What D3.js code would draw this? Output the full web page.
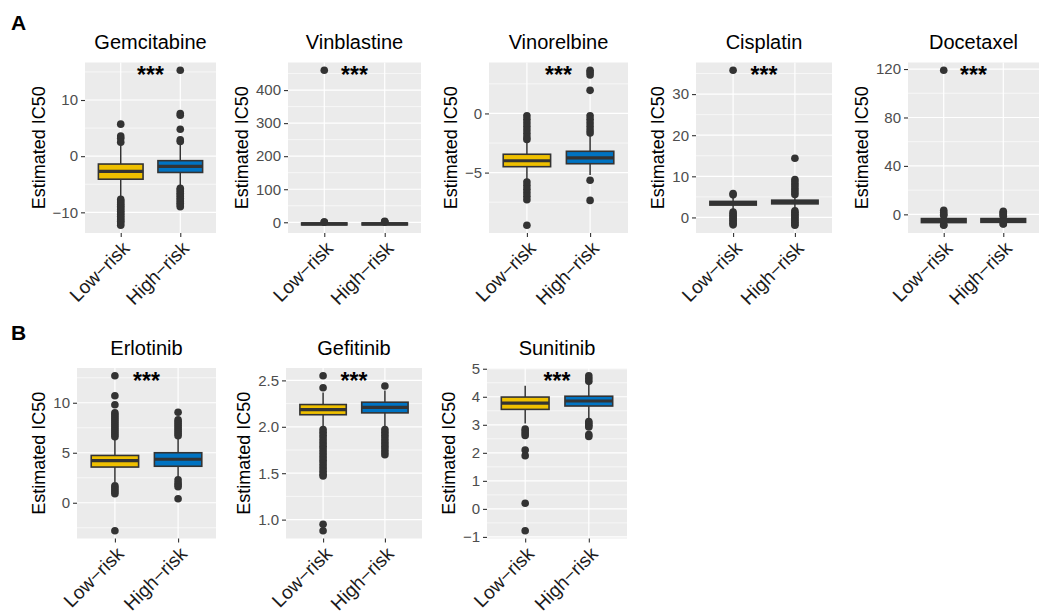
<!DOCTYPE html>
<html>
<head>
<meta charset="utf-8">
<script src="https://cdn.jsdelivr.net/npm/d3@7"></script>
<style>
body { margin: 0; background: #fff; }
svg { display: block; }
text { font-family: "Liberation Sans", Arial, sans-serif; }
</style>
</head>
<body>
<div id="chart"></div>
<script>
// drugs, groups and what each panel shows
var drugs = ["Gemcitabine", "Vinblastine", "Vinorelbine", "Cisplatin", "Docetaxel",
             "Erlotinib", "Gefitinib", "Sunitinib"];
var groups = ["Low\u2212risk", "High\u2212risk"];
var groupColors = ["#EFC000", "#0073C2"];
var signif = ["***", "***", "***", "***", "***", "***", "***", "***"];

// box stats per drug, per group: [lower whisker, q1, median, q3, upper whisker]
var boxStats = [
    [[-7.4, -4.1, -2.7, -1.4, 2.2], [-5.4, -2.9, -1.8, -0.8, 2.4]],
    [[-9, -8, -5, -2, -1], [-9, -8, -5, -2, -1]],
    [[-5.6, -4.5, -4.0, -3.45, -2.3], [-5.2, -4.25, -3.75, -3.2, -1.8]],
    [[1.7, 3.0, 3.4, 3.9, 5.3], [2.0, 3.3, 3.7, 4.2, 5.2]],
    [[-8, -6.8, -5, -3.5, -1.5], [-7.5, -6.6, -5, -3.5, -1.8]],
    [[2.07, 3.57, 4.22, 4.73, 6.4], [2.17, 3.65, 4.35, 5.0, 6.5]],
    [[2.0, 2.13, 2.185, 2.24, 2.37], [2.0, 2.15, 2.21, 2.265, 2.39]],
    [[3.05, 3.55, 3.77, 3.99, 4.39], [3.2, 3.67, 3.85, 4.02, 4.45]]
];

// outlier points per drug, per group
var outliers = [
    [[5.7, 3.6, 3.2, 2.5, -7.7, -8.0, -8.3, -8.6, -8.9, -9.2, -9.5, -9.8, -10.1, -10.4, -10.7, -11.0, -11.3, -11.6, -11.9, -12.3],
     [15.3, 7.6, 7.3, 4.8, 2.9, 2.6, -5.7, -6.0, -6.3, -6.6, -6.9, -7.2, -7.5, -7.8, -8.1, -8.4, -8.7, -9.0]],
    [[460, 1, 0.5],
     [3, 1.5, 0.5]],
    [[-0.2, -0.5, -0.8, -1.1, -1.4, -1.7, -2.0, -2.2, -5.8, -6.1, -6.4, -6.7, -7.0, -7.3, -9.45],
     [3.65, 3.45, 3.25, 1.95, -0.2, -0.5, -0.8, -1.1, -1.4, -1.65, -5.65, -7.35]],
    [[35.8, 5.8, 5.5, 1.3, 0.9, 0.5, 0.1, -0.3, -0.7, -1.1, -1.5, -1.8],
     [14.4, 9.2, 8.6, 8.0, 7.4, 6.8, 6.2, 5.6, 1.6, 1.2, 0.8, 0.4, 0, -0.4, -0.8, -1.2, -1.6, -1.9]],
    [[119, 3.3, 1.5, 0, -1, -8.5, -9],
     [2.5, 1.5, 0.5, -0.5, -1.5, -7.8, -8]],
    [[12.7, 10.7, 9.8, 9.0, 8.8, 8.6, 8.4, 8.2, 8.0, 7.8, 7.6, 7.4, 7.2, 7.0, 6.8, 6.6, 1.7, 1.5, 1.3, 1.1, 0.9, -2.8],
     [9.05, 8.3, 8.1, 7.9, 7.7, 7.5, 7.3, 7.1, 6.9, 6.7, 2.3, 2.0, 1.8, 1.6, 0.4]],
    [[2.55, 2.42, 1.97, 1.94, 1.91, 1.88, 1.85, 1.82, 1.79, 1.76, 1.73, 1.70, 1.67, 1.64, 1.61, 1.58, 1.55, 1.52, 1.49, 1.47, 0.95, 0.88],
     [2.44, 1.97, 1.94, 1.91, 1.88, 1.85, 1.82, 1.79, 1.76, 1.73, 1.70]],
    [[2.85, 2.78, 2.7, 2.62, 2.1, 1.9, 0.2, -0.78],
     [4.75, 4.65, 4.55, 3.12, 3.05, 2.98, 2.92, 2.65, 2.58]]
];

// y tick values per drug
var yTicks = [
    [-10, 0, 10],
    [0, 100, 200, 300, 400],
    [-5, 0],
    [0, 10, 20, 30],
    [0, 40, 80, 120],
    [0, 5, 10],
    [1.0, 1.5, 2.0, 2.5],
    [-1, 0, 1, 2, 3, 4, 5]
];

// plot area of each panel: [left, right, top, bottom]
var panelBox = [
    [85, 216, 62.5, 233], [288, 421, 62.5, 233], [489, 628, 62.5, 233],
    [696, 832, 62.5, 233], [908, 1039, 62.5, 233],
    [77, 216, 368, 538.5], [286, 422, 368, 538.5], [487, 627, 368, 538.5]
];

var svg = d3.select("#chart").append("svg")
    .attr("width", 1043)
    .attr("height", 611);

// row labels
svg.append("text").attr("x", 11).attr("y", 30)
    .style("font-size", "21px").style("font-weight", "bold").text("A");
svg.append("text").attr("x", 11).attr("y", 340)
    .style("font-size", "21px").style("font-weight", "bold").text("B");

drugs.forEach(function(drug, i) {
    var b = panelBox[i];
    var g = svg.append("g");

    var all = [];
    boxStats[i].forEach(function(s) { all = all.concat(s); });
    outliers[i].forEach(function(o) { all = all.concat(o); });
    var lo = d3.min(all), hi = d3.max(all), pad = (hi - lo) * 0.05;

    var x = d3.scalePoint().domain(groups).range([b[0], b[1]]).padding(0.6);
    var y = d3.scaleLinear().domain([lo - pad, hi + pad]).range([b[3], b[2]]);
    var boxW = x.step() * 0.75;

    // panel background + grid
    g.append("rect")
        .attr("x", b[0]).attr("y", b[2])
        .attr("width", b[1] - b[0]).attr("height", b[3] - b[2])
        .attr("fill", "#EBEBEB");

    var ticks = yTicks[i];
    var step = ticks[1] - ticks[0];
    var minor = [];
    for (var k = -1; k < ticks.length; k++) {
        var m = ticks[0] + step * (k + 0.5);
        if (m > y.domain()[0] && m < y.domain()[1]) minor.push(m);
    }
    g.selectAll(".minor").data(minor).enter().append("line")
        .attr("x1", b[0]).attr("x2", b[1])
        .attr("y1", function(d) { return y(d); }).attr("y2", function(d) { return y(d); })
        .attr("stroke", "#fff").attr("stroke-width", 0.6);
    g.selectAll(".major").data(ticks).enter().append("line")
        .attr("x1", b[0]).attr("x2", b[1])
        .attr("y1", function(d) { return y(d); }).attr("y2", function(d) { return y(d); })
        .attr("stroke", "#fff").attr("stroke-width", 1.2);
    g.selectAll(".vgrid").data(groups).enter().append("line")
        .attr("x1", function(d) { return x(d); }).attr("x2", function(d) { return x(d); })
        .attr("y1", b[2]).attr("y2", b[3])
        .attr("stroke", "#fff").attr("stroke-width", 1.2);

    // whiskers, outliers, boxes
    groups.forEach(function(grp, j) {
        var s = boxStats[i][j];
        var cx = x(grp);
        g.append("line")
            .attr("x1", cx).attr("x2", cx)
            .attr("y1", y(s[0])).attr("y2", y(s[4]))
            .attr("stroke", "#333").attr("stroke-width", 1.5);
        g.selectAll(".out" + j).data(outliers[i][j]).enter().append("circle")
            .attr("cx", cx).attr("cy", function(d) { return y(d); })
            .attr("r", 3.8).attr("fill", "#333");
        g.append("rect")
            .attr("x", cx - boxW / 2).attr("width", boxW)
            .attr("y", y(s[3])).attr("height", Math.max(0.1, y(s[1]) - y(s[3])))
            .attr("fill", groupColors[j])
            .attr("stroke", "#333").attr("stroke-width", 1.6);
        g.append("line")
            .attr("x1", cx - boxW / 2).attr("x2", cx + boxW / 2)
            .attr("y1", y(s[2])).attr("y2", y(s[2]))
            .attr("stroke", "#333").attr("stroke-width", 3.2);
    });

    // significance stars
    g.append("text")
        .attr("x", (x(groups[0]) + x(groups[1])) / 2)
        .attr("y", y(hi) + 0.575 * 23)
        .attr("text-anchor", "middle")
        .style("font-size", "23px")
        .style("font-weight", "bold")
        .text(signif[i]);

    // y axis
    var fmt = ticks.some(function(t) { return t % 1 !== 0; }) ? d3.format(".1f") : d3.format("d");
    var yAxis = g.append("g")
        .attr("transform", "translate(" + b[0] + ",0)")
        .call(d3.axisLeft(y).tickValues(ticks).tickSize(4).tickPadding(3).tickFormat(fmt));
    yAxis.select(".domain").remove();
    yAxis.selectAll(".tick line").attr("stroke", "#333").attr("stroke-width", 1.1);
    yAxis.selectAll(".tick text")
        .attr("fill", "#4D4D4D")
        .style("font-size", "15px")
        .style("font-family", "'Liberation Sans', Arial, sans-serif");

    // x axis
    var xAxis = g.append("g")
        .attr("transform", "translate(0," + b[3] + ")")
        .call(d3.axisBottom(x).tickSize(4).tickSizeOuter(0));
    xAxis.select(".domain").remove();
    xAxis.selectAll(".tick line").attr("stroke", "#333").attr("stroke-width", 1.1);
    xAxis.selectAll(".tick text")
        .attr("x", 0).attr("y", 0).attr("dy", "0.71em")
        .attr("transform", "translate(0,7) rotate(-45)")
        .attr("text-anchor", "end")
        .attr("fill", "#1A1A1A")
        .style("font-size", "19px")
        .style("font-family", "'Liberation Sans', Arial, sans-serif");

    // y axis title, placed left of the tick labels
    var yb = yAxis.node().getBBox();
    var tx = b[0] + yb.x - 8;
    g.append("text")
        .attr("transform", "translate(" + tx + "," + ((b[2] + b[3]) / 2) + ") rotate(-90)")
        .attr("text-anchor", "middle")
        .style("font-size", "18px")
        .text("Estimated IC50");

    // title
    g.append("text")
        .attr("x", (b[0] + b[1]) / 2)
        .attr("y", b[2] - 13.5)
        .attr("text-anchor", "middle")
        .style("font-size", "20px")
        .text(drug);
});
</script>
</body>
</html>
